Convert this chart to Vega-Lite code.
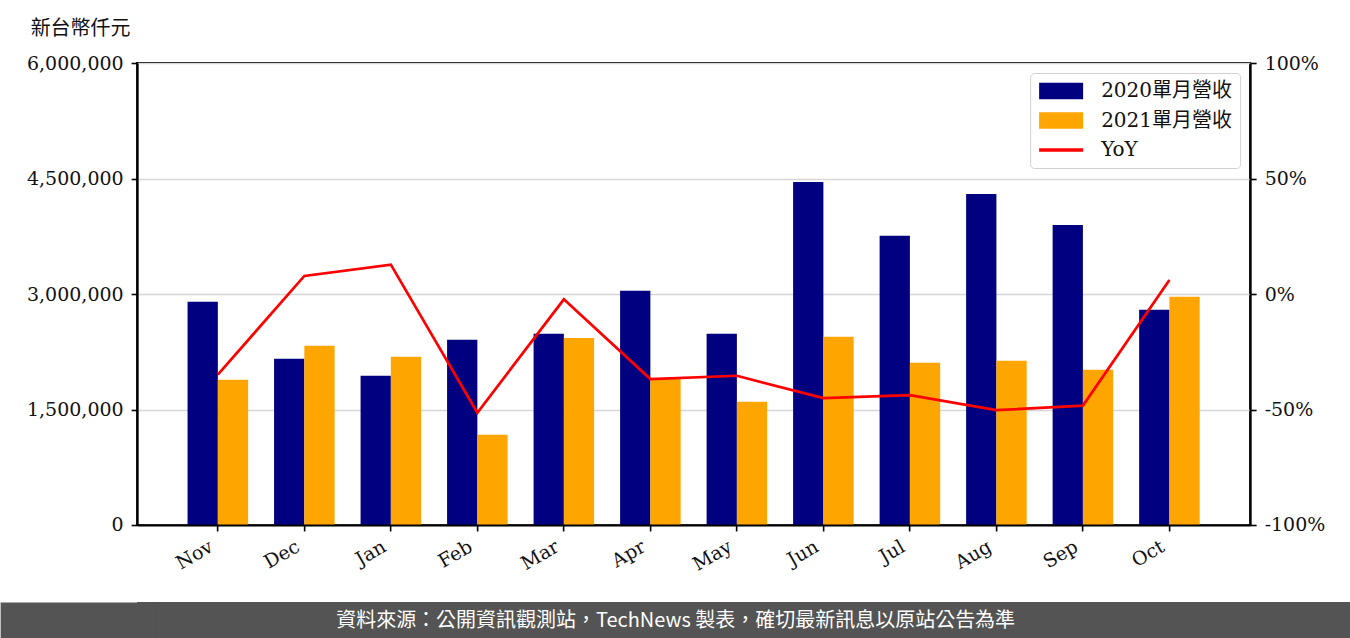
{
  "$schema": "https://vega.github.io/schema/vega-lite/v6.json",
  "background": "white",
  "padding": {"left": -7.87, "top": 17, "right": 0, "bottom": 0},
  "spacing": 18,
  "columns": 1,
  "resolve": {"legend": {"color": "independent"}},
  "datasets": {
    "bars": [
      {"month": "Nov", "series": "2020單月營收", "value": 2898000},
      {"month": "Nov", "series": "2021單月營收", "value": 1886000},
      {"month": "Dec", "series": "2020單月營收", "value": 2158000},
      {"month": "Dec", "series": "2021單月營收", "value": 2327000},
      {"month": "Jan", "series": "2020單月營收", "value": 1938000},
      {"month": "Jan", "series": "2021單月營收", "value": 2184000},
      {"month": "Feb", "series": "2020單月營收", "value": 2405000},
      {"month": "Feb", "series": "2021單月營收", "value": 1172000},
      {"month": "Mar", "series": "2020單月營收", "value": 2483000},
      {"month": "Mar", "series": "2021單月營收", "value": 2427000},
      {"month": "Apr", "series": "2020單月營收", "value": 3041000},
      {"month": "Apr", "series": "2021單月營收", "value": 1903000},
      {"month": "May", "series": "2020單月營收", "value": 2483000},
      {"month": "May", "series": "2021單月營收", "value": 1600000},
      {"month": "Jun", "series": "2020單月營收", "value": 4456000},
      {"month": "Jun", "series": "2021單月營收", "value": 2444000},
      {"month": "Jul", "series": "2020單月營收", "value": 3755000},
      {"month": "Jul", "series": "2021單月營收", "value": 2106000},
      {"month": "Aug", "series": "2020單月營收", "value": 4300000},
      {"month": "Aug", "series": "2021單月營收", "value": 2132000},
      {"month": "Sep", "series": "2020單月營收", "value": 3897000},
      {"month": "Sep", "series": "2021單月營收", "value": 2016000},
      {"month": "Oct", "series": "2020單月營收", "value": 2794000},
      {"month": "Oct", "series": "2021單月營收", "value": 2963000}
    ],
    "yoy": [
      {"month": "Nov", "series": "YoY", "yoy": -34.9},
      {"month": "Dec", "series": "YoY", "yoy": 7.8},
      {"month": "Jan", "series": "YoY", "yoy": 12.7},
      {"month": "Feb", "series": "YoY", "yoy": -51.4},
      {"month": "Mar", "series": "YoY", "yoy": -2.3},
      {"month": "Apr", "series": "YoY", "yoy": -36.8},
      {"month": "May", "series": "YoY", "yoy": -35.4},
      {"month": "Jun", "series": "YoY", "yoy": -45.1},
      {"month": "Jul", "series": "YoY", "yoy": -43.8},
      {"month": "Aug", "series": "YoY", "yoy": -50.3},
      {"month": "Sep", "series": "YoY", "yoy": -48.3},
      {"month": "Oct", "series": "YoY", "yoy": 6.1}
    ],
    "note": [
      {"text": "資料來源：公開資訊觀測站，TechNews 製表，確切最新訊息以原站公告為準"}
    ]
  },
  "concat": [
    {
      "width": 1113,
      "height": 462,
      "view": {"stroke": "#000000", "strokeWidth": 2},
      "layer": [
        {
          "data": {"name": "bars"},
          "mark": {"type": "bar"},
          "encoding": {
            "x": {
              "field": "month",
              "type": "nominal",
              "sort": ["Nov", "Dec", "Jan", "Feb", "Mar", "Apr", "May", "Jun", "Jul", "Aug", "Sep", "Oct"],
              "scale": {"paddingInner": 0.3, "paddingOuter": 0.583},
              "axis": {
                "title": null,
                "labelAngle": -30,
                "labelAlign": "right",
                "labelBaseline": "top",
                "labelOffset": -11,
                "labelFont": "DejaVu Serif",
                "labelFontSize": 19,
                "labelColor": "#111111",
                "labelPadding": 6,
                "tickSize": 6,
                "tickWidth": 1.6,
                "tickColor": "#000000",
                "domainColor": "#000000",
                "domainWidth": 2,
                "zindex": 1
              }
            },
            "xOffset": {
              "field": "series",
              "type": "nominal",
              "sort": ["2020單月營收", "2021單月營收"],
              "scale": {"paddingInner": 0, "paddingOuter": 0}
            },
            "y": {
              "field": "value",
              "type": "quantitative",
              "scale": {"domain": [0, 6000000], "nice": false},
              "axis": {
                "title": "新台幣仟元",
                "titleAngle": 0,
                "titleAlign": "left",
                "titleBaseline": "middle",
                "titleX": -107,
                "titleY": -35,
                "titleFont": "Noto Sans CJK TC",
                "titleFontSize": 20,
                "titleFontWeight": "normal",
                "titleColor": "#111111",
                "values": [0, 1500000, 3000000, 4500000, 6000000],
                "format": ",d",
                "labelFont": "DejaVu Serif",
                "labelFontSize": 19,
                "labelColor": "#111111",
                "labelPadding": -122.2,
                "tickSize": 136.2,
                "tickWidth": 1.6,
                "tickColor": "#000000",
                "tickDash": [6, 400],
                "domainColor": "#000000",
                "domainWidth": 2,
                "grid": true,
                "gridColor": "#d6d6d6",
                "gridWidth": 1.5
              }
            },
            "color": {
              "field": "series",
              "type": "nominal",
              "scale": {
                "domain": ["2020單月營收", "2021單月營收", "YoY"],
                "range": ["#000080", "#FFA500", "#FF0000"]
              },
              "legend": {
                "title": null,
                "orient": "top-right",
                "offset": 10,
                "fillColor": "#ffffff",
                "strokeColor": "#d0d0d0",
                "cornerRadius": 4,
                "padding": 8,
                "labelFont": "DejaVu Serif, Noto Sans CJK TC",
                "labelFontSize": 20,
                "labelColor": "#111111",
                "labelOffset": 30,
                "symbolOffset": 13,
                "rowPadding": 9.5,
                "symbolSize": 1936,
                "encode": {
                  "symbols": {
                    "update": {
                      "shape": {"signal": "datum.value === 'YoY' ? 'M-1,0H1' : 'M-1,-0.37H1V0.37H-1Z'"},
                      "fill": {"signal": "datum.value === 'YoY' ? 'transparent' : scale('color', datum.value)"},
                      "stroke": {"signal": "scale('color', datum.value)"},
                      "strokeWidth": {"signal": "datum.value === 'YoY' ? 3.5 : 0"}
                    }
                  }
                }
              }
            }
          }
        },
        {
          "data": {"name": "yoy"},
          "mark": {"type": "line", "strokeWidth": 2.7},
          "encoding": {
            "x": {
              "field": "month",
              "type": "nominal",
              "sort": ["Nov", "Dec", "Jan", "Feb", "Mar", "Apr", "May", "Jun", "Jul", "Aug", "Sep", "Oct"]
            },
            "y": {
              "field": "yoy",
              "type": "quantitative",
              "scale": {"domain": [-100, 100], "nice": false},
              "axis": {
                "orient": "right",
                "title": null,
                "values": [-100, -50, 0, 50, 100],
                "labelExpr": "datum.value + '%'",
                "labelFont": "DejaVu Serif",
                "labelFontSize": 19,
                "labelColor": "#111111",
                "labelPadding": 8,
                "tickSize": 6,
                "tickWidth": 1.6,
                "tickColor": "#000000",
                "domainColor": "#000000",
                "domainWidth": 2,
                "grid": false
              }
            },
            "color": {"field": "series", "type": "nominal"}
          }
        }
      ],
      "resolve": {"scale": {"y": "independent"}}
    },
    {
      "width": 1213,
      "height": 38,
      "view": {"fill": "#545454", "stroke": null},
      "data": {"name": "note"},
      "mark": {"type": "text", "color": "#ffffff", "font": "Noto Sans CJK TC", "fontSize": 20, "dx": -68},
      "encoding": {
        "y": {
          "field": "text",
          "type": "nominal",
          "scale": {"paddingInner": 0, "paddingOuter": 0},
          "axis": {
            "title": null,
            "labels": false,
            "domain": false,
            "ticks": true,
            "tickSize": 118,
            "tickWidth": 38,
            "tickCap": "square",
            "tickColor": "#545454",
            "grid": false
          }
        },
        "text": {"field": "text", "type": "nominal"}
      }
    }
  ]
}
